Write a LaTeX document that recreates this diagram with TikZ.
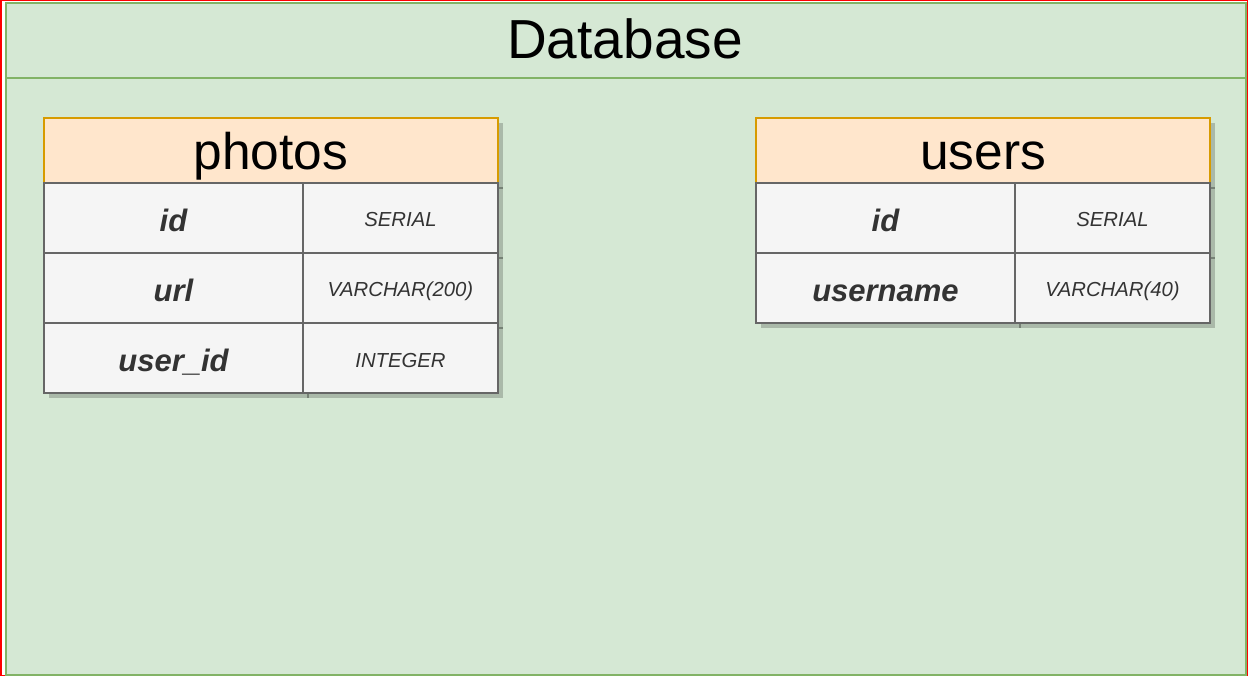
\documentclass[tikz,border=0pt]{standalone}
\usepackage{fontspec}
\setmainfont{Liberation Sans}
\definecolor{contfill}{HTML}{D5E8D4}
\definecolor{contdraw}{HTML}{82B366}
\definecolor{hdrfill}{HTML}{FFE6CC}
\definecolor{hdrdraw}{HTML}{D79B00}
\definecolor{cellfill}{HTML}{F5F5F5}
\definecolor{celldraw}{HTML}{666666}
\definecolor{txt}{HTML}{333333}
\tikzset{
  hdrbox/.style={draw=hdrdraw, fill=hdrfill, line width=2pt, anchor=north west, inner sep=0pt,
    minimum width=454pt, minimum height=65pt, font=\fontsize{51.5}{56}\selectfont, text=black,
    text height=39pt, text depth=0pt},
  namecell/.style={draw=celldraw, fill=cellfill, line width=2pt, anchor=north west, inner sep=0pt,
    minimum width=259pt, minimum height=70pt, font=\fontsize{31}{34}\selectfont\bfseries\itshape, text=txt,
    text height=27pt, text depth=0pt},
  typecell/.style={draw=celldraw, fill=cellfill, line width=2pt, anchor=north west, inner sep=0pt,
    minimum width=195pt, minimum height=70pt, font=\fontsize{20.3}{24}\selectfont\itshape, text=txt,
    text height=18pt, text depth=0pt},
  shadowfill/.style={fill=black, fill opacity=0.2},
  shadowline/.style={draw=black, draw opacity=0.3, line width=2pt},
}
\begin{document}
\begin{tikzpicture}[x=1pt,y=-1pt]
\useasboundingbox (0,0) rectangle (1248,676);
% outer red frame
\draw[red, line width=1.5pt] (0.75,0.75) rectangle (1247.25,675.25);
% container
\node[draw=contdraw, fill=contfill, line width=2pt, anchor=north west, inner sep=0pt,
  minimum width=1240pt, minimum height=672pt] (db) at (5,2) {};
\coordinate (hl) at (5,78);
\coordinate (hr) at (1245,78);
\draw[contdraw, line width=2pt] (hl) -- (hr);
\node[font=\fontsize{55}{60}\selectfont, text=black, inner sep=0pt, text height=37pt, text depth=0pt] (dbtitle) at (625,40) {Database};
% shadows
\fill[shadowfill] (49,123) rectangle (503,398);
\draw[shadowline] (308,188) -- (308,398);
\draw[shadowline] (49,258) -- (503,258);
\draw[shadowline] (49,328) -- (503,328);
\draw[shadowline] (49,188) -- (503,188);
\fill[shadowfill] (761,123) rectangle (1215,328);
\draw[shadowline] (1020,188) -- (1020,328);
\draw[shadowline] (761,258) -- (1215,258);
\draw[shadowline] (761,188) -- (1215,188);
% photos table
\node[hdrbox] (photos) at (43,117) {photos};
\node[namecell] (pid) at (43,182) {id};
\node[typecell] (pidt) at (302,182) {SERIAL};
\node[namecell] (purl) at (43,252) {url};
\node[typecell] (purlt) at (302,252) {VARCHAR(200)};
\node[namecell] (puid) at (43,322) {user\_id};
\node[typecell] (puidt) at (302,322) {INTEGER};
% users table
\node[hdrbox] (users) at (755,117) {users};
\node[namecell] (uid) at (755,182) {id};
\node[typecell] (uidt) at (1014,182) {SERIAL};
\node[namecell] (uname) at (755,252) {username};
\node[typecell] (unamet) at (1014,252) {VARCHAR(40)};
\end{tikzpicture}
\end{document}
